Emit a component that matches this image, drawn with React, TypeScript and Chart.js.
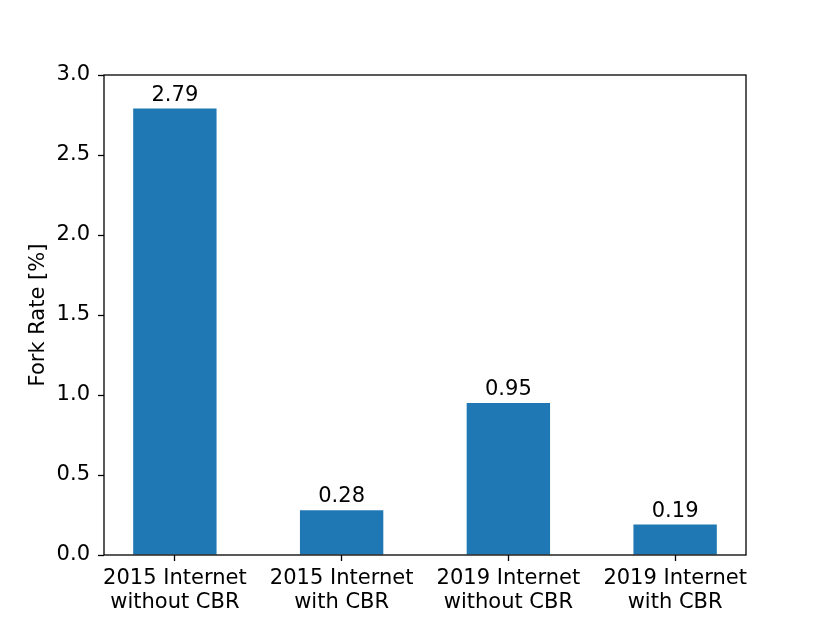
import React, { useEffect, useRef } from "react";
import { Chart, registerables } from "chart.js";

Chart.register(...registerables);

const categories: string[][] = [
  ["2015 Internet", "without CBR"],
  ["2015 Internet", "with CBR"],
  ["2019 Internet", "without CBR"],
  ["2019 Internet", "with CBR"],
];
const forkRates: number[] = [2.79, 0.28, 0.95, 0.19];
const yTicks: number[] = [0, 0.5, 1.0, 1.5, 2.0, 2.5, 3.0];

const FONT = "'DejaVu Sans', sans-serif";
const FS = 21;

const framePlugin = {
  id: "frame",
  afterDraw(chart: any) {
    const { ctx, chartArea } = chart;
    ctx.save();
    ctx.strokeStyle = "#000";
    ctx.lineWidth = 1.3;
    ctx.strokeRect(chartArea.left, chartArea.top, chartArea.right - chartArea.left, chartArea.bottom - chartArea.top);
    ctx.restore();
  },
};

const labelPlugin = {
  id: "barLabels",
  afterDatasetsDraw(chart: any) {
    const { ctx } = chart;
    const meta = chart.getDatasetMeta(0);
    ctx.save();
    ctx.fillStyle = "#000";
    ctx.font = `${FS}px ${FONT}`;
    ctx.textAlign = "center";
    ctx.textBaseline = "alphabetic";
    meta.data.forEach((bar: any, i: number) => {
      ctx.fillText(forkRates[i].toFixed(2), bar.x, bar.y - 8);
    });
    ctx.restore();
  },
};

export default function App() {
  const ref = useRef<HTMLCanvasElement>(null);
  useEffect(() => {
    document.body.style.margin = "0";
    const chart = new Chart(ref.current!, {
      type: "bar",
      data: {
        datasets: [
          {
            data: forkRates.map((v, i) => ({ x: i, y: v })),
            backgroundColor: "#1f77b4",
            borderWidth: 0,
            barPercentage: 0.5,
            categoryPercentage: 1,
          },
        ],
      },
      options: {
        responsive: false,
        animation: false,
        layout: { padding: { top: 75, right: 84, left: 0, bottom: 0 } },
        plugins: { legend: { display: false }, tooltip: { enabled: false } },
        scales: {
          x: {
            type: "linear",
            min: -0.425,
            max: 3.425,
            offset: false,
            afterBuildTicks: (scale: any) => {
              scale.ticks = categories.map((_, i) => ({ value: i }));
            },
            afterFit: (scale: any) => {
              scale.height = 68;
            },
            grid: {
              offset: false,
              drawOnChartArea: false,
              drawTicks: true,
              tickLength: 6,
              tickColor: "#000",
              tickWidth: 1.3,
            },
            border: { display: false },
            ticks: {
              autoSkip: false,
              maxRotation: 0,
              padding: 5,
              color: "#000",
              font: { family: FONT, size: FS, lineHeight: 1.17 },
              callback: (v: any) => categories[Math.round(Number(v))] ?? "",
            },
          },
          y: {
            min: 0,
            max: 3,
            afterBuildTicks: (scale: any) => {
              scale.ticks = yTicks.map((v) => ({ value: v }));
            },
            afterFit: (scale: any) => {
              scale.width = 104;
            },
            grid: {
              drawOnChartArea: false,
              drawTicks: true,
              tickLength: 6,
              tickColor: "#000",
              tickWidth: 1.3,
            },
            border: { display: false },
            title: {
              display: true,
              text: "Fork Rate [%]",
              color: "#000",
              font: { family: FONT, size: FS, lineHeight: 1.2 },
              padding: { top: 26, bottom: 0 },
            },
            ticks: {
              padding: 8,
              color: "#000",
              font: { family: FONT, size: FS },
              callback: (v: any) => Number(v).toFixed(1),
            },
          },
        },
      },
      plugins: [framePlugin, labelPlugin],
    } as any);
    return () => chart.destroy();
  }, []);
  return (
    <div style={{ position: "absolute", left: 0, top: 0, width: 830, height: 623, background: "#fff" }}>
      <canvas ref={ref} width={830} height={623} />
    </div>
  );
}
